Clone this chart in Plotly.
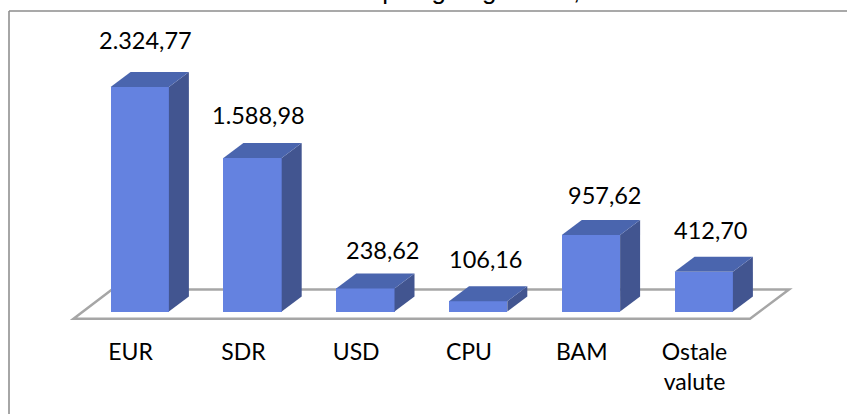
import plotly.graph_objects as go

categories = ["EUR", "SDR", "USD", "CPU", "BAM", "Ostale<br>valute"]
# Bar heights. The BAM bar is drawn shorter than its
# printed label (957,62) says, so its height is read from the bar itself.
values = [2324.77, 1588.98, 238.62, 106.16, 792.0, 412.70]
value_labels = ["2.324,77", "1.588,98", "238,62", "106,16", "957,62", "412,70"]
title_text = "Valutna struktura opšteg duga u mil, €"

# Layout / style (separate from the data)
W, H = 847, 414
PX_PER_CAT = 112.8
PX_PER_UNIT = 0.0966
X0_PX, Y0_PX = 139.75, 311.5
AXIS_PX = 336
BAR_W = 58.3 / PX_PER_CAT
DX = 20 / PX_PER_CAT
DY = 15 / PX_PER_UNIT
FRONT, TOP, SIDE = "#6482e0", "#4a65ae", "#425590"
GREY = "#a6a6a6"
FONT = "Lato"
label_dx = [5.5, 6, 17, 7.5, 14, 6.5]
label_dy = [47, 43, 38, 42, 40, 42]
tick_dx = -9.2 / PX_PER_CAT

xpx = lambda p: (p - X0_PX) / PX_PER_CAT
ypx = lambda p: (Y0_PX - p) / PX_PER_UNIT

fig = go.Figure()

# floor plane, kept below the bars
fx = [xpx(112), xpx(73.5), xpx(750), xpx(789)]
fy = [ypx(289.5), ypx(318.7), ypx(318.7), ypx(289.5)]
floor_path = "M " + " L ".join(f"{a},{b}" for a, b in zip(fx, fy)) + " Z"
fig.add_shape(type="path", path=floor_path, xref="x", yref="y", layer="below",
              line=dict(color=GREY, width=2.5), fillcolor="white")

for i, v in enumerate(values):
    l, r = i - BAR_W / 2, i + BAR_W / 2
    fig.add_trace(go.Scatter(x=[r, r + DX, r + DX, r, r], y=[0, DY, v + DY, v, 0],
                             mode="lines", fill="toself", fillcolor=SIDE, line=dict(width=0),
                             hoverinfo="skip", showlegend=False))
    fig.add_trace(go.Scatter(x=[l, l + DX, r + DX, r, l], y=[v, v + DY, v + DY, v, v],
                             mode="lines", fill="toself", fillcolor=TOP, line=dict(width=0),
                             hoverinfo="skip", showlegend=False))

fig.add_trace(go.Bar(x=list(range(len(values))), y=values, width=BAR_W,
                     marker=dict(color=FRONT, line=dict(width=0)),
                     hoverinfo="skip", showlegend=False))

for i, (v, t) in enumerate(zip(values, value_labels)):
    fig.add_annotation(x=i, y=v, xref="x", yref="y", text=t, showarrow=False,
                       xanchor="center", yanchor="middle",
                       xshift=label_dx[i], yshift=label_dy[i],
                       font=dict(family=FONT, size=23.5, color="#000000"))

plot_h = AXIS_PX
top_y = 1 - 11 / plot_h
bot_y = 1 - H / plot_h
fig.add_shape(type="line", xref="paper", yref="paper", x0=9 / W, x1=9 / W, y0=top_y, y1=bot_y,
              line=dict(color=GREY, width=2))
fig.add_shape(type="line", xref="paper", yref="paper", x0=9 / W, x1=1, y0=top_y, y1=top_y,
              line=dict(color="#8c8c8c", width=1.5))

fig.add_annotation(x=384 / W, y=1, xref="paper", yref="paper", text=title_text, showarrow=False,
                   xanchor="center", yanchor="bottom", yshift=-7,
                   font=dict(family="Liberation Sans", size=26, color="#000000"))

fig.update_layout(
    width=W, height=H, autosize=False,
    margin=dict(l=0, r=0, t=0, b=H - AXIS_PX, pad=0),
    paper_bgcolor="white", plot_bgcolor="white",
    bargap=0,
    xaxis=dict(range=[xpx(0), xpx(W)], tickmode="array",
               tickvals=[i + tick_dx for i in range(len(categories))],
               ticktext=categories, tickangle=0, ticks="", ticklen=0,
               showgrid=False, zeroline=False, showline=False, fixedrange=True,
               tickfont=dict(family=FONT, size=23, color="#000000")),
    yaxis=dict(range=[ypx(AXIS_PX), ypx(0)], visible=False, showgrid=False,
               zeroline=False, fixedrange=True),
)

fig.write_html("out.html", config=dict(displayModeBar=False),
               post_script="document.body.style.margin='0';document.body.style.overflow='hidden';")
